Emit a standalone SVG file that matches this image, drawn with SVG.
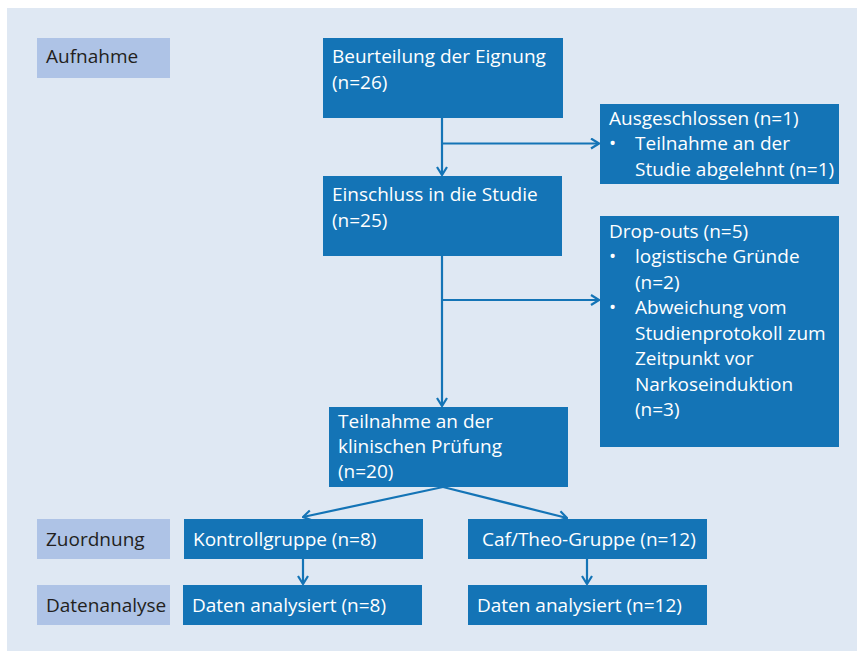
<svg xmlns="http://www.w3.org/2000/svg" width="857" height="651" viewBox="0 0 857 651">
<defs>
<style>
.bg{fill:#dfe8f3}
.lab{fill:#aec3e6}
.box{fill:#1474b6}
.lt{font-family:"Open Sans","Noto Sans",sans-serif;font-size:19px;fill:#231f20}
.bt{font-family:"Open Sans","Noto Sans",sans-serif;font-size:19px;fill:#ffffff}
.con{stroke:#1474b6;stroke-width:2.2;fill:none}
</style>
<marker id="ah" viewBox="0 0 12 12" refX="11" refY="6" markerWidth="12" markerHeight="12" markerUnits="userSpaceOnUse" orient="auto">
<path d="M3,1 L11,6 L3,11" fill="none" stroke="#1474b6" stroke-width="2.2"/>
</marker>
</defs>
<rect class="bg" x="7" y="8" width="850" height="643"/>
<g id="label-aufnahme"><rect class="lab" x="37" y="38" width="133" height="40"/><text class="lt" x="46" y="63">Aufnahme</text></g>
<g id="label-zuordnung"><rect class="lab" x="37" y="519" width="133" height="40"/><text class="lt" x="46" y="546">Zuordnung</text></g>
<g id="label-datenanalyse"><rect class="lab" x="37" y="585" width="133" height="40"/><text class="lt" x="46" y="612">Datenanalyse</text></g>
<g id="node-beurteilung"><rect class="box" x="323" y="38" width="240" height="80"/><text class="bt" x="332" y="63">Beurteilung der Eignung</text><text class="bt" x="332" y="89">(n=26)</text></g>
<g id="node-einschluss"><rect class="box" x="323" y="176" width="239" height="80"/><text class="bt" x="332" y="201">Einschluss in die Studie</text><text class="bt" x="332" y="227">(n=25)</text></g>
<g id="node-ausgeschlossen"><rect class="box" x="600" y="104" width="239" height="80"/><text class="bt" x="609" y="125">Ausgeschlossen (n=1)</text><text class="bt" x="609" y="150">•</text><text class="bt" x="635" y="150">Teilnahme an der</text><text class="bt" x="635" y="176">Studie abgelehnt (n=1)</text></g>
<g id="node-dropouts"><rect class="box" x="600" y="216" width="239" height="231"/><text class="bt" x="609" y="238">Drop-outs (n=5)</text><text class="bt" x="609" y="263">•</text><text class="bt" x="635" y="263">logistische Gründe</text><text class="bt" x="635" y="288.5">(n=2)</text><text class="bt" x="609" y="314">•</text><text class="bt" x="635" y="314">Abweichung vom</text><text class="bt" x="635" y="339.5">Studienprotokoll zum</text><text class="bt" x="635" y="365">Zeitpunkt vor</text><text class="bt" x="635" y="390.5">Narkoseinduktion</text><text class="bt" x="635" y="416">(n=3)</text></g>
<g id="node-teilnahme"><rect class="box" x="329" y="407" width="239" height="80"/><text class="bt" x="338" y="428">Teilnahme an der</text><text class="bt" x="338" y="453">klinischen Prüfung</text><text class="bt" x="338" y="478">(n=20)</text></g>
<g id="node-kontroll"><rect class="box" x="184" y="519" width="239" height="40"/><text class="bt" x="193" y="546">Kontrollgruppe (n=8)</text></g>
<g id="node-caftheo"><rect class="box" x="468" y="519" width="239" height="40"/><text class="bt" x="482" y="546">Caf/Theo-Gruppe (n=12)</text></g>
<g id="node-daten8"><rect class="box" x="183" y="585" width="239" height="40"/><text class="bt" x="192" y="612">Daten analysiert (n=8)</text></g>
<g id="node-daten12"><rect class="box" x="468" y="585" width="239" height="40"/><text class="bt" x="477" y="612">Daten analysiert (n=12)</text></g>
<g id="connectors">
<line class="con" x1="442" y1="118" x2="442" y2="175" marker-end="url(#ah)"/>
<line class="con" x1="442" y1="143.5" x2="599" y2="143.5" marker-end="url(#ah)"/>
<line class="con" x1="442" y1="256" x2="442" y2="406" marker-end="url(#ah)"/>
<line class="con" x1="442" y1="300" x2="599" y2="300" marker-end="url(#ah)"/>
<line class="con" x1="443" y1="487" x2="303" y2="517" marker-end="url(#ah)"/>
<line class="con" x1="443" y1="487" x2="567" y2="518" marker-end="url(#ah)"/>
<line class="con" x1="303" y1="559" x2="303" y2="584" marker-end="url(#ah)"/>
<line class="con" x1="587" y1="559" x2="587" y2="584" marker-end="url(#ah)"/>
</g>
</svg>
